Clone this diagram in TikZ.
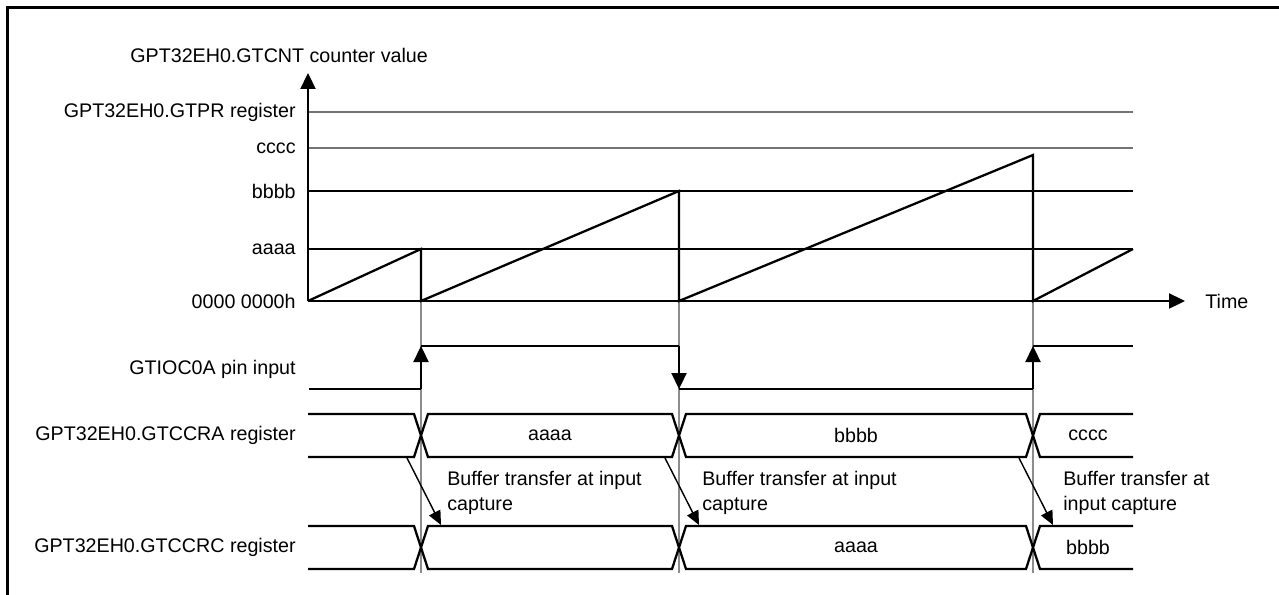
\documentclass[tikz,border=0pt]{standalone}
\usepackage{fontspec}
\setmainfont{Liberation Sans}
\usetikzlibrary{arrows.meta}

\begin{document}
\begin{tikzpicture}[
    x=0.02cm, y=-0.02cm,
    txt/.style={
        inner sep=0pt,
        font=\fontsize{11.2}{14.2}\selectfont
    },
    label/.style={txt, anchor=east},
    signal/.style={line width=1.3pt},
    level/.style={line width=0.6pt},
    guide/.style={line width=0.6pt, black!45},
    tip/.style={-{Triangle[length=0.32cm, width=0.3cm]}},
    small tip/.style={-{Triangle[length=0.28cm, width=0.25cm]}}
]
\useasboundingbox (0,0) rectangle (1279,595);
\draw[line width=1.9pt] (7.5,595) -- (7.5,7.5) -- (1279,7.5);

% capture instants
\coordinate (origin) at (308,301);
\foreach \t [count=\i] in {421,679,1033}{
    \coordinate (cap\i) at (\t,301);
    \draw[guide] (cap\i) -- ++(0,272);
}

% counter levels
\foreach \y/\col/\name in {
    112/black!55/GPT32EH0.GTPR register,
    148/black!55/cccc,
    191/black/bbbb,
    249/black/aaaa
}{
    \draw[level, draw=\col] (308,\y) -- (1133,\y);
    \node[label] at (296,\y) {\name};
}
\node[label] (zero) at (296,301) {0000 0000h};

\draw[signal, tip] (origin) -- (308,73);
\node[txt, anchor=west] (ylabel) at (130,55) {GPT32EH0.GTCNT counter value};
\draw[signal, tip] (origin) -- (1185,301);
\node[txt, anchor=west] (time) at (1205,301) {Time};

\draw[signal] (origin) -- (421,249) -- (cap1) -- (679,191) -- (cap2)
    -- (1033,155) -- (cap3) -- (1133,249);

% GTIOC0A pin input
\node[label] (pin) at (296,369) {GTIOC0A pin input};
\draw[signal] (309,389) -- (421,389);
\draw[signal, tip] (421,389) -- (421,346);
\draw[signal] (421,346) -- (679,346);
\draw[signal, tip] (679,346) -- (679,389);
\draw[signal] (679,389) -- (1033,389);
\draw[signal, tip] (1033,389) -- (1033,346);
\draw[signal] (1033,346) -- (1133,346);

% register buses
\foreach \y/\name/\va/\vb/\vc in {
    414/GTCCRA/aaaa/bbbb/cccc,
    526/GTCCRC//aaaa/bbbb
}{
    \begin{scope}[shift={(0,\y)}]
        \draw[signal] (308,0) -- (414,0) -- (428,43) -- (672,43) -- (686,0)
            -- (1026,0) -- (1040,43) -- (1133,43);
        \draw[signal] (308,43) -- (414,43) -- (428,0) -- (672,0) -- (686,43)
            -- (1026,43) -- (1040,0) -- (1133,0);
        \node[label] (\name) at (296,21.5) {GPT32EH0.\name\ register};
        \node[txt] at (550,21.5) {\va};
        \node[txt] at (856,21.5) {\vb};
        \node[txt] at (1088,21.5) {\vc};
    \end{scope}
}

% buffer transfers
\foreach \t/\x/\a/\b in {
    421/447/Buffer transfer at input/capture,
    679/702/Buffer transfer at input/capture,
    1033/1063/Buffer transfer at/input capture
}{
    \draw[line width=0.8pt, small tip] (\t-14,458) -- (\t+20,525);
    \node[txt, anchor=base west, align=left] at (\x,510) {\a\\\b};
}
\end{tikzpicture}
\end{document}
